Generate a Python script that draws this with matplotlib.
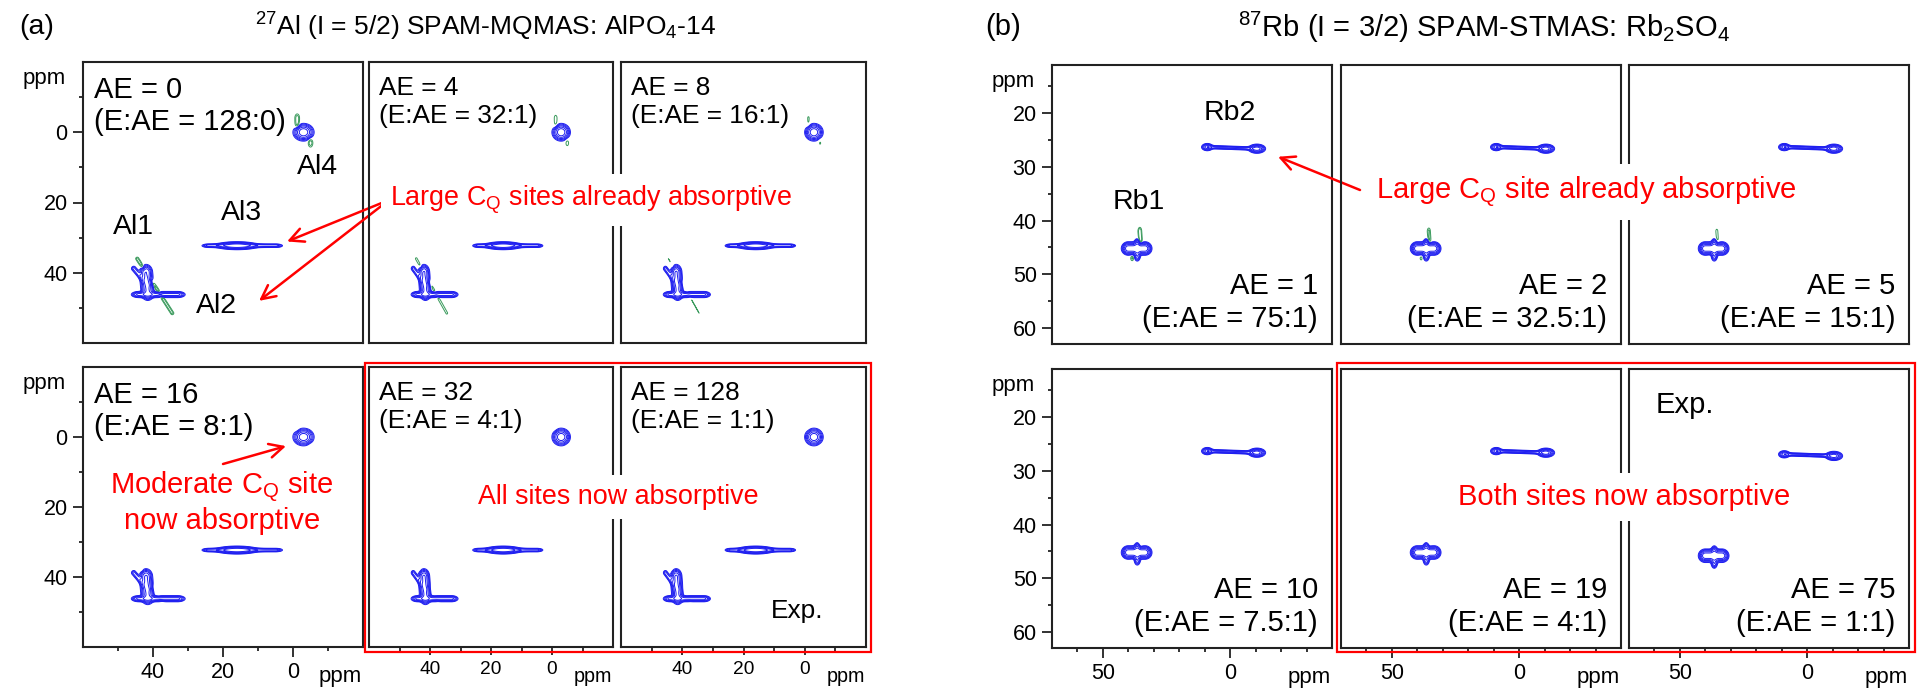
import numpy as np
import matplotlib
matplotlib.use('Agg')
import matplotlib.pyplot as plt
from matplotlib.patches import Rectangle
from matplotlib.ticker import FixedLocator

plt.rcParams.update({'font.family': ['Liberation Sans', 'DejaVu Sans'],
                     'mathtext.fontset': 'custom',
                     'mathtext.rm': 'Liberation Sans',
                     'mathtext.it': 'Liberation Sans:italic',
                     'mathtext.default': 'regular',
                     'font.size': 15})

#%% data

# 27Al SPAM-MQMAS, AlPO4-14
al_ae = ['0', '4', '8', '16', '32', '128']
al_ratio = ['128:0', '32:1', '16:1', '8:1', '4:1', '1:1']
al_disp = [1.0, 0.6, 0.45, 0.3, 0.12, 0.08]     # weight of dispersive (green) part
# peak pieces: segment from (x1,y1) to (x2,y2) in ppm, widths, amplitude (<0 dispersive)
al_x1 = [-3.0, 16.0, 24.0, 44.0, 42.0, 45.5, 44.5, -1.2, -5.0]
al_y1 = [0.0, 32.3, 32.3, 46.2, 40.0, 38.8, 36.0, -4.0, 3.0]
al_x2 = [-3.0, 16.0, 5.0, 33.0, 41.5, 41.5, 34.5, -1.2, -5.0]
al_y2 = [0.0, 32.3, 32.3, 46.2, 45.5, 43.5, 51.5, -2.0, 3.0]
al_wx = [1.2, 2.5, 1.0, 1.0, 0.8, 0.4, 0.35, 0.5, 0.5]
al_wy = [1.0, 0.45, 0.25, 0.4, 1.0, 0.4, 0.35, 0.9, 0.9]
al_amp = [1.0, 1.0, 0.3, 0.45, 0.7, 0.15, -0.09, -0.1, -0.1]
al_xmaj = [40, 20, 0]
al_xmin = [50, 30, 10, -10]
al_ymaj = [0, 20, 40]
al_ymin = [-10, 10, 30, 50]

# 87Rb SPAM-STMAS, Rb2SO4
rb_ae = ['1', '2', '5', '10', '19', '75']
rb_ratio = ['75:1', '32.5:1', '15:1', '7.5:1', '4:1', '1:1']
rb_disp = [1.0, 0.7, 0.45, 0.3, 0.15, 0.0]
rb_shift = [0, 0, 0, 0, 0, 0.6]
rb_x1 = [40.0, 36.5, 8.0, 9.0, -10.5, 35.5, 38.5]
rb_y1 = [45.2, 44.4, 26.3, 26.3, 26.6, 42.0, 47.0]
rb_x2 = [33.5, 36.5, -10.5, 9.0, -10.5, 35.2, 38.5]
rb_y2 = [45.2, 46.5, 26.6, 26.3, 26.6, 44.0, 47.0]
rb_wx = [1.1, 0.6, 0.8, 1.0, 1.4, 0.5, 0.5]
rb_wy = [0.5, 0.5, 0.16, 0.3, 0.35, 0.5, 0.4]
rb_amp = [1.0, 0.35, 0.25, 0.5, 0.8, -0.12, -0.08]
rb_xmaj = [50, 0]
rb_xmin = [60, 40, 30, 20, 10, -10, -20, -30]
rb_ymaj = [20, 30, 40, 50, 60]
rb_ymin = [15, 25, 35, 45, 55]

pos_levels = [0.04, 0.07, 0.12, 0.2, 0.35, 0.6]
neg_levels = [-0.2, -0.12, -0.07, -0.04]


def spectrum(X, Y, x1, y1, x2, y2, wx, wy, amp, disp, shift):
    Z = np.zeros_like(X)
    for i in range(len(x1)):
        u = (X - x1[i]) / wx[i]
        v = (Y - y1[i] - shift) / wy[i]
        du = (x2[i] - x1[i]) / wx[i]
        dv = (y2[i] - y1[i]) / wy[i]
        L2 = du**2 + dv**2
        t = np.clip((u*du + v*dv) / L2, 0, 1) if L2 > 0 else 0.0
        d2 = (u - t*du)**2 + (v - t*dv)**2
        a = amp[i] * (disp if amp[i] < 0 else 1.0)
        Z += a * np.exp(-d2 / 2)
    return Z


#%% layout (pixels of the 1917x691 figure)
W, H = 1917, 691
fig = plt.figure(figsize=(W/100, H/100), dpi=100)


def frac(x, y):
    return (x / W, 1 - y / H)


def box(c, r):
    return [c[0]/W, 1 - r[1]/H, (c[1]-c[0])/W, (r[1]-r[0])/H]


al_cols = [(83, 363), (369, 613), (621, 866)]
al_rows = [(62, 343), (367, 647)]
rb_cols = [(1052, 1332), (1341, 1621), (1629, 1909)]
rb_rows = [(65, 344), (369, 648)]
sq = 0.86   # panels 2 and 3 of (a) are squeezed sideways in the original

kc = '#222222'
blue = '#1e1ef0'
green = '#3a9a5c'


def style(ax, col, row, xmaj, xmin, ymaj, ymin, tsize=15.5, psize=16, tl=7):
    ax.set_facecolor('none')
    for s in ax.spines.values():
        s.set_linewidth(1.5)
        s.set_color(kc)
    ax.xaxis.set_major_locator(FixedLocator(xmaj))
    ax.xaxis.set_minor_locator(FixedLocator(xmin))
    ax.yaxis.set_major_locator(FixedLocator(ymaj))
    ax.yaxis.set_minor_locator(FixedLocator(ymin))
    ax.tick_params(which='both', direction='out', top=False, right=False,
                   labelsize=tsize, width=1.3, color=kc, pad=4)
    ax.tick_params(which='major', length=tl)
    ax.tick_params(which='minor', length=3)
    if row == 0:
        ax.tick_params(axis='x', which='both', bottom=False, labelbottom=False)
    else:
        ax.text(0.918, -0.107, 'ppm', transform=ax.transAxes, ha='center',
                va='center', fontsize=psize)
    if col > 0:
        ax.tick_params(axis='y', which='both', left=False, labelleft=False)
    else:
        ax.text(-0.062, 0.94, 'ppm', transform=ax.transAxes, ha='right',
                va='center', fontsize=psize)


xa = np.linspace(-20, 60, 600)
ya = np.linspace(-20, 60, 600)
XA, YA = np.meshgrid(xa, ya)
xr = np.linspace(-40, 70, 700)
yr = np.linspace(11, 63, 500)
XR, YR = np.meshgrid(xr, yr)

al_axes = []
rb_axes = []
for k in range(6):
    row, col = divmod(k, 3)
    # Al
    ax = fig.add_axes(box(al_cols[col], al_rows[row]))
    Z = spectrum(XA, YA, al_x1, al_y1, al_x2, al_y2, al_wx, al_wy, al_amp,
                 al_disp[k], 0)
    ax.contour(XA, YA, Z, levels=neg_levels, colors=green, linewidths=0.7,
               linestyles='solid')
    ax.contour(XA, YA, Z, levels=pos_levels, colors=blue, linewidths=0.7)
    ax.set_xlim(60, -20)
    ax.set_ylim(60, -20)
    lab = 'AE = %s\n(E:AE = %s)' % (al_ae[k], al_ratio[k])
    if col == 0:
        style(ax, col, row, al_xmaj, al_xmin, al_ymaj, al_ymin)
        ax.text(0.04, 0.95, lab, transform=ax.transAxes, ha='left', va='top',
                fontsize=21)
    else:
        style(ax, col, row, al_xmaj, al_xmin, al_ymaj, al_ymin,
              tsize=16*sq, psize=16.5*sq, tl=6)
        ax.text(0.04, 0.95, lab, transform=ax.transAxes, ha='left', va='top',
                fontsize=22*sq)
    al_axes.append(ax)
    # Rb
    ax = fig.add_axes(box(rb_cols[col], rb_rows[row]))
    Z = spectrum(XR, YR, rb_x1, rb_y1, rb_x2, rb_y2, rb_wx, rb_wy, rb_amp,
                 rb_disp[k], rb_shift[k])
    ax.contour(XR, YR, Z, levels=neg_levels, colors=green, linewidths=0.7,
               linestyles='solid')
    ax.contour(XR, YR, Z, levels=pos_levels, colors=blue, linewidths=0.7)
    ax.set_xlim(70, -40)
    ax.set_ylim(63, 11)
    style(ax, col, row, rb_xmaj, rb_xmin, rb_ymaj, rb_ymin)
    ax.text(0.95, 0.04, 'AE = %s\n(E:AE = %s)' % (rb_ae[k], rb_ratio[k]),
            transform=ax.transAxes, ha='right', va='bottom', fontsize=21,
            multialignment='right')
    rb_axes.append(ax)

#%% labels and annotations
ax = al_axes[0]
ax.text(45.7, 26.9, 'Al1', ha='center', va='center', fontsize=20.5)
ax.text(22.0, 49.4, 'Al2', ha='center', va='center', fontsize=20.5)
ax.text(14.6, 23.1, 'Al3', ha='center', va='center', fontsize=20.5)
ax.text(-7.0, 10.0, 'Al4', ha='center', va='center', fontsize=20.5)
rb_axes[0].text(0.0, 20.0, 'Rb2', ha='center', va='center', fontsize=20.5)
rb_axes[0].text(35.8, 36.6, 'Rb1', ha='center', va='center', fontsize=20.5)
al_axes[5].text(0.72, 0.13, 'Exp.', transform=al_axes[5].transAxes,
                ha='center', va='center', fontsize=22*sq)
rb_axes[5].text(0.2, 0.87, 'Exp.', transform=rb_axes[5].transAxes,
                ha='center', va='center', fontsize=21)

fig.text(*frac(19, 27), '(a)', ha='left', va='center', fontsize=20.5)
fig.text(*frac(486, 27), r'$^{27}$Al (I = 5/2) SPAM-MQMAS: AlPO$_4$-14',
         ha='center', va='center', fontsize=19)
fig.text(*frac(985, 27), '(b)', ha='left', va='center', fontsize=21)
fig.text(*frac(1484, 27), r'$^{87}$Rb (I = 3/2) SPAM-STMAS: Rb$_2$SO$_4$',
         ha='center', va='center', fontsize=21)

wbox = dict(boxstyle='square,pad=0.35', fc='white', ec='none')
fig.text(*frac(591, 200), 'Large C$_Q$ sites already absorptive', color='red',
         ha='center', va='center', fontsize=22.5*sq, bbox=wbox)
fig.text(*frac(618, 497), 'All sites now absorptive', color='red',
         ha='center', va='center', fontsize=22.5*sq, bbox=wbox)
fig.text(*frac(222, 502), 'Moderate C$_Q$ site\nnow absorptive', color='red',
         ha='center', va='center', fontsize=21, multialignment='center',
         linespacing=1.1)
fig.text(*frac(1586, 192), 'Large C$_Q$ site already absorptive', color='red',
         ha='center', va='center', fontsize=21, bbox=wbox)
fig.text(*frac(1624, 497), 'Both sites now absorptive', color='red',
         ha='center', va='center', fontsize=21, bbox=wbox)


def arrow(ax, tip, start):
    ax.annotate('', xy=tip, xycoords='data', xytext=frac(*start),
                textcoords='figure fraction', annotation_clip=False,
                arrowprops=dict(arrowstyle='->,head_length=0.5,head_width=0.25',
                                color='red', lw=1.8, mutation_scale=20,
                                shrinkA=0, shrinkB=0))


arrow(al_axes[0], (1.7, 31.1), (389, 200))
arrow(al_axes[0], (9.7, 48.0), (389, 200))
arrow(al_axes[3], (2.0, 2.6), (223, 464))
arrow(rb_axes[0], (-18.8, 28.1), (1360, 190))

for x0, x1 in [(365, 871), (1337, 1915)]:
    fig.add_artist(Rectangle(frac(x0, 652), (x1 - x0)/W, (652 - 363)/H,
                             transform=fig.transFigure, fill=False,
                             ec='red', lw=1.6))

fig.savefig('out.png', dpi=100)
